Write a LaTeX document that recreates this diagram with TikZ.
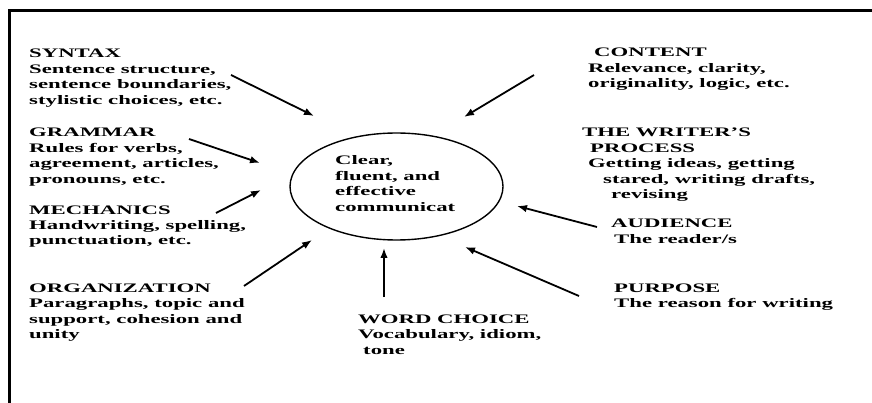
\documentclass[tikz,border=0pt]{standalone}
\usepackage{fontspec}
\setmainfont{Liberation Serif}[FakeStretch=1.75]
\usetikzlibrary{arrows.meta,shapes.geometric}
\tikzset{
  lbl/.style={anchor=base west, inner sep=0pt, align=left, font=\bfseries\fontsize{13}{15.5}\selectfont},
  arr/.style={line width=1.8pt, -{Latex[length=10pt,width=7.5pt]}},
  hub/.style={draw, ellipse, line width=1.4pt, minimum width=213pt, minimum height=107pt, inner sep=0pt},
  frame/.style={line width=2.5pt}
}
\begin{document}
\begin{tikzpicture}[x=1pt,y=-1pt]
\useasboundingbox (0,0) rectangle (872,403);
% frame (top and left edges)
\coordinate (fbl) at (9.5,403);
\coordinate (ftl) at (9.5,10.5);
\coordinate (ftr) at (872,10.5);
\draw[frame] (fbl) -- (ftl) -- (ftr);

% hub
\node[hub] (hub) at (396.5,186.5) {};
\node[lbl] (hubtext) at (335,211.5) {Clear,\\fluent, and\\effective\\communicat};

% labels (anchored at the baseline of their last line)
\node[lbl] (syntax) at (29,104.5) {SYNTAX\\Sentence structure,\\sentence boundaries,\\stylistic choices, etc.};
\node[lbl] (grammar) at (29,183.5) {GRAMMAR\\Rules for verbs,\\agreement, articles,\\pronouns, etc.};
\node[lbl] (mech) at (29,245) {MECHANICS\\Handwriting, spelling,\\punctuation, etc.};
\node[lbl] (org) at (29,338.5) {ORGANIZATION\\Paragraphs, topic and\\support, cohesion and\\unity};
\node[lbl] (word) at (358,354) {WORD CHOICE\\Vocabulary, idiom,\\\hspace{5pt}tone};
\node[lbl] (content) at (588,88) {\hspace{6pt}CONTENT\\Relevance, clarity,\\originality, logic, etc.};
\node[lbl] (writer) at (582,199) {THE WRITER’S\\\hspace{8pt}PROCESS\\\hspace{6pt}Getting ideas, getting\\\hspace{21pt}stared, writing drafts,\\\hspace{29pt}revising};
\node[lbl] (aud) at (611,243.5) {AUDIENCE\\\hspace{3pt}The reader/s};
\node[lbl] (purp) at (614,307.5) {PURPOSE\\The reason for writing};

% arrow endpoints
\coordinate (s1) at (231,75);  \coordinate (s2) at (314,116);
\coordinate (c1) at (534,75);  \coordinate (c2) at (464,117);
\coordinate (g1) at (189,139); \coordinate (g2) at (260,163);
\coordinate (m1) at (216,213); \coordinate (m2) at (261,190);
\coordinate (o1) at (244,286); \coordinate (o2) at (312,240);
\coordinate (w1) at (384,297); \coordinate (w2) at (384,248);
\coordinate (p1) at (579,296); \coordinate (p2) at (465,247);
\coordinate (a1) at (597,227); \coordinate (a2) at (517,206);

\draw[arr] (s1) -- (s2);
\draw[arr] (c1) -- (c2);
\draw[arr] (g1) -- (g2);
\draw[arr] (m1) -- (m2);
\draw[arr] (o1) -- (o2);
\draw[arr] (w1) -- (w2);
\draw[arr] (p1) -- (p2);
\draw[arr] (a1) -- (a2);
\end{tikzpicture}
\end{document}
